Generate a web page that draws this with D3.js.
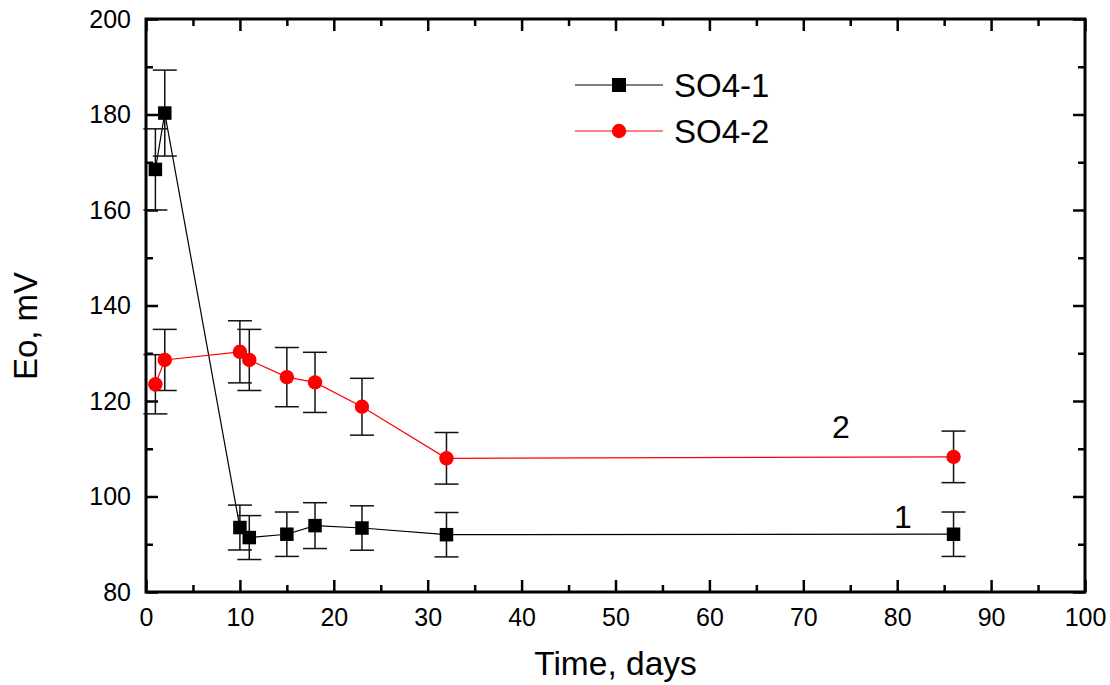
<!DOCTYPE html>
<html>
<head>
<meta charset="utf-8">
<script src="https://cdn.jsdelivr.net/npm/d3@7"></script>
<style>
  body { margin: 0; background: #fff; }
  svg { font-family: "Liberation Sans", Arial, sans-serif; }
</style>
</head>
<body>
<div id="chart"></div>
<script>
// data
const days = [1, 2, 10, 11, 15, 18, 23, 32, 86];
const so4_1 = [168.5, 180.3, 93.5, 91.4, 92.1, 93.9, 93.4, 92.0, 92.1];
const so4_1_err = [8.5, 9.0, 4.7, 4.6, 4.65, 4.8, 4.65, 4.65, 4.65];
const so4_2 = [123.5, 128.6, 130.3, 128.6, 125.0, 123.9, 118.8, 108.0, 108.3];
const so4_2_err = [6.2, 6.4, 6.5, 6.4, 6.2, 6.3, 5.95, 5.4, 5.4];
const xTicks = [0, 10, 20, 30, 40, 50, 60, 70, 80, 90, 100];
const yTicks = [80, 100, 120, 140, 160, 180, 200];
const seriesNames = ["SO4-1", "SO4-2"];
const curveLabels = [{text: "1", x: 80.6, y: 93.4}, {text: "2", x: 74.0, y: 112.3}];

const width = 1110, height = 685;
const pLeft = 146, pRight = 1085, pTop = 19, pBottom = 592;

const svg = d3.select("#chart").append("svg")
  .attr("width", width)
  .attr("height", height);

const x = d3.scaleLinear().domain([0, 100]).range([pLeft, pRight]);
const y = d3.scaleLinear().domain([80, 200]).range([pBottom, pTop]);

// minor ticks (inward, all four sides)
const xMinor = d3.range(5, 100, 10);
const yMinor = d3.range(90, 200, 20);

function styleAxis(g) {
  g.select(".domain").remove();
  g.selectAll(".tick line").attr("stroke", "#000").attr("stroke-width", 2.5);
  g.selectAll("text").attr("fill", "#000").attr("font-size", "25px");
}

svg.append("g").attr("transform", `translate(0,${pBottom})`)
  .call(d3.axisBottom(x).tickValues(xTicks).tickSize(-12).tickPadding(16))
  .call(styleAxis);
svg.append("g").attr("transform", `translate(0,${pBottom})`)
  .call(d3.axisBottom(x).tickValues(xMinor).tickSize(-7).tickFormat(""))
  .call(styleAxis);
svg.append("g").attr("transform", `translate(0,${pTop})`)
  .call(d3.axisTop(x).tickValues(xTicks).tickSize(-12).tickFormat(""))
  .call(styleAxis);
svg.append("g").attr("transform", `translate(0,${pTop})`)
  .call(d3.axisTop(x).tickValues(xMinor).tickSize(-7).tickFormat(""))
  .call(styleAxis);

svg.append("g").attr("transform", `translate(${pLeft},0)`)
  .call(d3.axisLeft(y).tickValues(yTicks).tickSize(-12).tickPadding(15))
  .call(styleAxis);
svg.append("g").attr("transform", `translate(${pLeft},0)`)
  .call(d3.axisLeft(y).tickValues(yMinor).tickSize(-7).tickFormat(""))
  .call(styleAxis);
svg.append("g").attr("transform", `translate(${pRight},0)`)
  .call(d3.axisRight(y).tickValues(yTicks).tickSize(-12).tickFormat(""))
  .call(styleAxis);
svg.append("g").attr("transform", `translate(${pRight},0)`)
  .call(d3.axisRight(y).tickValues(yMinor).tickSize(-7).tickFormat(""))
  .call(styleAxis);

// frame
svg.append("rect")
  .attr("x", pLeft).attr("y", pTop)
  .attr("width", pRight - pLeft).attr("height", pBottom - pTop)
  .attr("fill", "none").attr("stroke", "#000").attr("stroke-width", 3);

// axis titles
svg.append("text")
  .attr("x", (pLeft + pRight) / 2).attr("y", 675)
  .attr("text-anchor", "middle").attr("font-size", "33.5px")
  .text("Time, days");
svg.append("text")
  .attr("transform", "translate(37,326) rotate(-90)")
  .attr("text-anchor", "middle").attr("font-size", "33px")
  .text("Eo, mV");

const series = [
  {name: seriesNames[0], vals: so4_1, err: so4_1_err, color: "#000", shape: "square"},
  {name: seriesNames[1], vals: so4_2, err: so4_2_err, color: "#ff0000", shape: "circle"}
];

const line = d3.line().x(d => x(d[0])).y(d => y(d[1]));

series.forEach(s => {
  const pts = days.map((d, i) => [d, s.vals[i], s.err[i]]);

  svg.append("path")
    .datum(pts)
    .attr("fill", "none")
    .attr("stroke", s.color)
    .attr("stroke-width", 1.2)
    .attr("d", line);

  // error bars
  const eb = svg.append("g").selectAll("g").data(pts).enter().append("g")
    .attr("stroke", "#111").attr("stroke-width", 1.5);
  eb.append("line")
    .attr("x1", d => x(d[0])).attr("x2", d => x(d[0]))
    .attr("y1", d => y(d[1] - d[2])).attr("y2", d => y(d[1] + d[2]));
  eb.append("line")
    .attr("x1", d => x(d[0]) - 12).attr("x2", d => x(d[0]) + 12)
    .attr("y1", d => y(d[1] + d[2])).attr("y2", d => y(d[1] + d[2]));
  eb.append("line")
    .attr("x1", d => x(d[0]) - 12).attr("x2", d => x(d[0]) + 12)
    .attr("y1", d => y(d[1] - d[2])).attr("y2", d => y(d[1] - d[2]));

  // markers
  const sym = s.shape === "square" ? d3.symbolSquare : d3.symbolCircle;
  const size = s.shape === "square" ? 13.5 * 13.5 : Math.PI * 7.2 * 7.2;
  svg.append("g").selectAll("path").data(pts).enter().append("path")
    .attr("transform", d => `translate(${x(d[0])},${y(d[1])})`)
    .attr("d", d3.symbol().type(sym).size(size))
    .attr("fill", s.color);
});

// legend
const legend = svg.append("g").attr("transform", "translate(575,85)");
const items = legend.selectAll("g").data(series).enter().append("g")
  .attr("transform", (d, i) => `translate(0,${i * 46})`);
items.append("line")
  .attr("x1", 0).attr("x2", 88).attr("y1", 0).attr("y2", 0)
  .attr("stroke", d => d.color).attr("stroke-width", 1.2);
items.append("path")
  .attr("transform", "translate(44,0)")
  .attr("d", d => d3.symbol()
    .type(d.shape === "square" ? d3.symbolSquare : d3.symbolCircle)
    .size(d.shape === "square" ? 14 * 14 : Math.PI * 7.2 * 7.2)())
  .attr("fill", d => d.color);
items.append("text")
  .attr("x", 99).attr("y", 12)
  .attr("font-size", "33px")
  .text(d => d.name);

// curve numbers
svg.append("g").selectAll("text").data(curveLabels).enter().append("text")
  .attr("x", d => x(d.x)).attr("y", d => y(d.y))
  .attr("text-anchor", "middle").attr("font-size", "32px")
  .text(d => d.text);
</script>
</body>
</html>
